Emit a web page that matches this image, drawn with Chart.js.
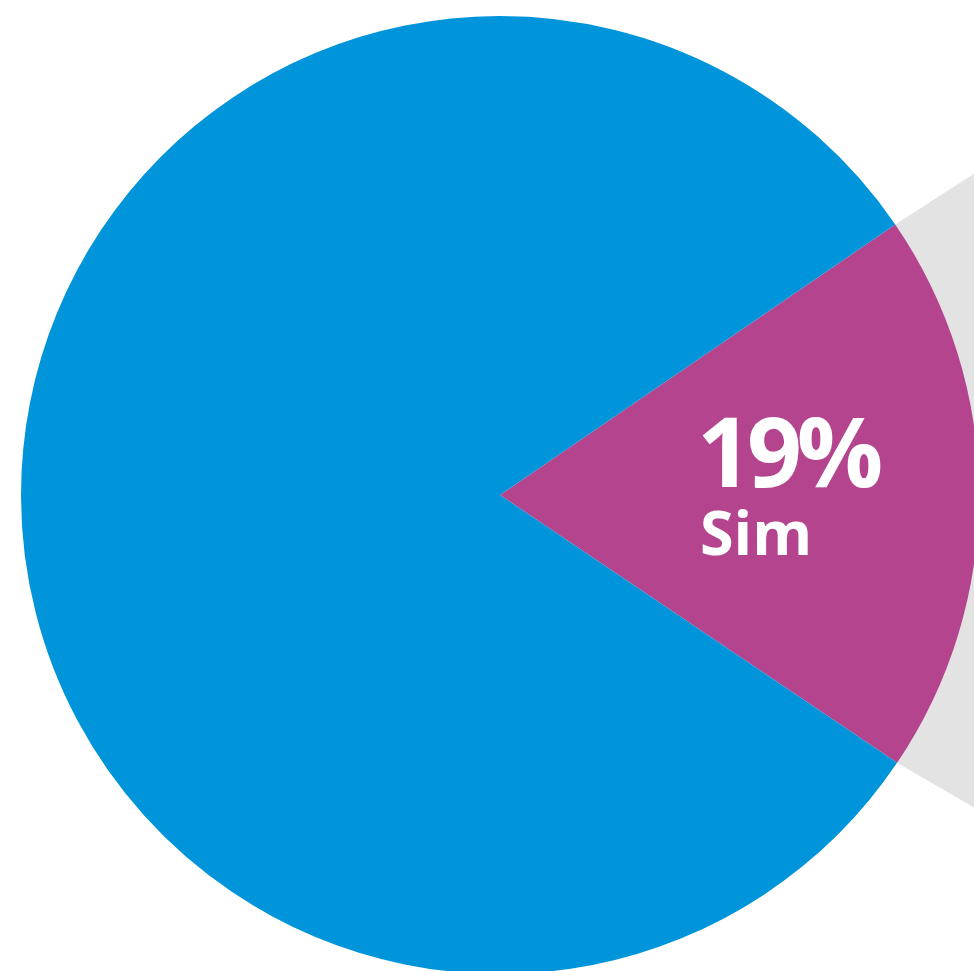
<!DOCTYPE html>
<html>
<head>
<meta charset="utf-8">
<script src="https://cdn.jsdelivr.net/npm/chart.js@4"></script>
<style>
  html, body { margin: 0; padding: 0; background: #fff; overflow: hidden; }
  #wrap { width: 979px; height: 974px; position: relative; }
</style>
</head>
<body>
<div id="wrap"><canvas id="pieChart"></canvas></div>
<script>
const labels = ["Sim", "Não"];
const values = [19, 81];
const colors = ["#B5448F", "#0095DA"];

// grey callout band behind the highlighted slice
const calloutPlugin = {
  id: "callout",
  beforeDatasetsDraw(chart) {
    const arc = chart.getDatasetMeta(0).data[0];
    if (!arc) return;
    const { x, y, startAngle, endAngle, outerRadius } = arc.getProps(["x", "y", "startAngle", "endAngle", "outerRadius"], true);
    const p1 = [x + outerRadius * Math.cos(startAngle), y + outerRadius * Math.sin(startAngle)];
    const p2 = [x + outerRadius * Math.cos(endAngle), y + outerRadius * Math.sin(endAngle)];
    const a1 = -32.8 * Math.PI / 180;
    const a2 = 30.2 * Math.PI / 180;
    const far = 600;
    const ctx = chart.ctx;
    ctx.save();
    ctx.fillStyle = "#E3E3E3";
    ctx.beginPath();
    ctx.moveTo(p1[0], p1[1]);
    ctx.lineTo(p1[0] + far * Math.cos(a1), p1[1] + far * Math.sin(a1));
    ctx.lineTo(p2[0] + far * Math.cos(a2), p2[1] + far * Math.sin(a2));
    ctx.lineTo(p2[0], p2[1]);
    ctx.closePath();
    ctx.fill();
    ctx.restore();
  },
  afterDatasetsDraw(chart) {
    const arc = chart.getDatasetMeta(0).data[0];
    if (!arc) return;
    const ctx = chart.ctx;
    ctx.save();
    ctx.fillStyle = "#fff";
    ctx.textAlign = "left";
    ctx.textBaseline = "alphabetic";
    ctx.font = "bold 96px 'Open Sans'";
    ctx.letterSpacing = "-5px";
    ctx.fillText(values[0] + "%", arc.x + 197, arc.y - 8);
    ctx.font = "bold 61px 'Open Sans'";
    ctx.letterSpacing = "0px";
    ctx.fillText(labels[0], arc.x + 200, arc.y + 60);
    ctx.restore();
  }
};

const ctx = document.getElementById("pieChart").getContext("2d");
new Chart(ctx, {
  type: "pie",
  data: {
    labels: labels,
    datasets: [{
      data: values,
      backgroundColor: colors,
      borderWidth: 0
    }]
  },
  options: {
    responsive: true,
    maintainAspectRatio: false,
    animation: false,
    rotation: 55.6,
    layout: { padding: { left: 21, top: 16, right: 0, bottom: 0 } },
    plugins: {
      legend: { display: false },
      tooltip: { enabled: false }
    }
  },
  plugins: [calloutPlugin]
});
</script>
</body>
</html>
